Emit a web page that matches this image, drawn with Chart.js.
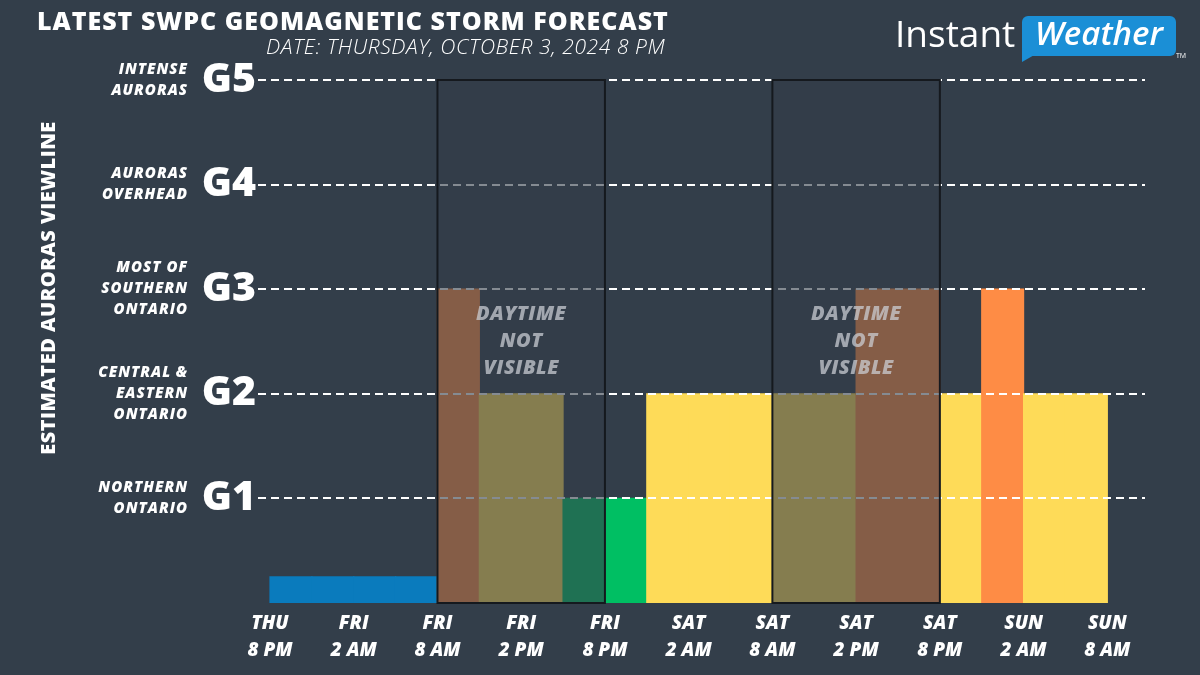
<!doctype html>
<html>
<head>
  <script src="https://cdn.jsdelivr.net/npm/chart.js@4.4.1/dist/chart.umd.min.js"></script>
  <style>
    html, body { margin: 0; padding: 0; background: #333e4a; }
    #wrap { width: 1200px; height: 675px; position: relative; }
  </style>
</head>
<body>
  <div id="wrap"><canvas id="canvas" width="1200" height="675"></canvas></div>
  <script>
    // 3-hour slots, hours after Thu 8 PM
    const slotHours = [0, 3, 6, 9, 12, 15, 18, 21, 24, 27, 30, 33, 36, 39, 42, 45, 48, 51, 54, 57];
    // forecast G level per slot (0.25 = below G1)
    const kLevels = [0.25, 0.25, 0.25, 0.25, 3, 2, 2, 1, 1, 2, 2, 2, 2, 2, 3, 3, 2, 3, 2, 2];
    const tickHours = [0, 6, 12, 18, 24, 30, 36, 42, 48, 54, 60];
    const tickLabels = [
      ['THU', '8 PM'], ['FRI', '2 AM'], ['FRI', '8 AM'], ['FRI', '2 PM'], ['FRI', '8 PM'],
      ['SAT', '2 AM'], ['SAT', '8 AM'], ['SAT', '2 PM'], ['SAT', '8 PM'], ['SUN', '2 AM'], ['SUN', '8 AM']
    ];
    const gLevels = [1, 2, 3, 4, 5];
    const gNotes = [
      ['NORTHERN', 'ONTARIO'],
      ['CENTRAL &', 'EASTERN', 'ONTARIO'],
      ['MOST OF', 'SOUTHERN', 'ONTARIO'],
      ['AURORAS', 'OVERHEAD'],
      ['INTENSE', 'AURORAS']
    ];
    const daytime = [[12, 24], [36, 48]];

    const BG = '#333e4a';
    const levelColor = (v) => v >= 3 ? '#fe8c45' : v >= 2 ? '#fedb58' : v >= 1 ? '#00bf63' : '#0a7bbd';
    const FONT = '"Open Sans", "DejaVu Sans", sans-serif';

    const decor = {
      id: 'decor',
      beforeDraw(chart) {
        const ctx = chart.ctx;
        ctx.save();
        ctx.fillStyle = BG;
        ctx.fillRect(0, 0, chart.width, chart.height);
        ctx.restore();
      },
      afterDraw(chart) {
        const ctx = chart.ctx;
        const x = chart.scales.x, y = chart.scales.y;
        const area = chart.chartArea;
        ctx.save();

        // daytime boxes
        daytime.forEach(([a, b]) => {
          const x0 = x.getPixelForValue(a), x1 = x.getPixelForValue(b);
          ctx.fillStyle = 'rgba(51,62,74,0.6)';
          ctx.fillRect(x0, area.top, x1 - x0, area.bottom - area.top);
          ctx.strokeStyle = '#15191e';
          ctx.lineWidth = 2;
          ctx.strokeRect(x0, area.top, x1 - x0, area.bottom - area.top);
          ctx.fillStyle = 'rgba(205,208,215,0.72)';
          ctx.font = 'italic 800 20px ' + FONT;
          ctx.letterSpacing = '0.5px';
          ctx.textAlign = 'center';
          ctx.textBaseline = 'middle';
          const cx = (x0 + x1) / 2, cy = y.getPixelForValue(2.5);
          ['DAYTIME', 'NOT', 'VISIBLE'].forEach((t, i) => ctx.fillText(t, cx, cy + (i - 1) * 27));
        });

        // notes next to G levels
        ctx.fillStyle = '#ffffff';
        ctx.font = 'italic 800 15px ' + FONT;
        ctx.letterSpacing = '1px';
        ctx.textAlign = 'right';
        ctx.textBaseline = 'middle';
        gLevels.forEach((g, i) => {
          const lines = gNotes[i];
          const cy = y.getPixelForValue(g);
          lines.forEach((t, j) => ctx.fillText(t, 188, cy + (j - (lines.length - 1) / 2) * 21));
        });

        // y title
        ctx.save();
        ctx.translate(49, 288);
        ctx.rotate(-Math.PI / 2);
        ctx.textAlign = 'center';
        ctx.letterSpacing = '0.5px';
        ctx.font = '800 20px ' + FONT;
        ctx.fillText('ESTIMATED AURORAS VIEWLINE', 0, 0);
        ctx.restore();

        // title + subtitle
        ctx.textAlign = 'left';
        ctx.font = '800 25px ' + FONT;
        ctx.letterSpacing = '1px';
        ctx.fillText('LATEST SWPC GEOMAGNETIC STORM FORECAST', 37, 23);
        ctx.font = 'italic 300 21px ' + FONT;
        ctx.letterSpacing = '0.6px';
        ctx.fillText('DATE: THURSDAY, OCTOBER 3, 2024 8 PM', 266, 48);

        // logo
        ctx.letterSpacing = '0px';
        ctx.font = '400 37px ' + FONT;
        ctx.fillText('Instant', 895, 36);
        ctx.fillStyle = '#1b8fd6';
        ctx.beginPath();
        ctx.roundRect(1022, 16, 154, 40, 6);
        ctx.fill();
        ctx.beginPath();
        ctx.moveTo(1022, 48);
        ctx.lineTo(1022, 62);
        ctx.lineTo(1036, 54);
        ctx.closePath();
        ctx.fill();
        ctx.fillStyle = '#ffffff';
        ctx.font = 'italic 600 33px ' + FONT;
        ctx.textAlign = 'center';
        ctx.fillText('Weather', 1099, 36);
        ctx.font = '400 7px ' + FONT;
        ctx.fillText('TM', 1181, 56);
        ctx.restore();
      }
    };

    new Chart(document.getElementById('canvas'), {
      type: 'bar',
      data: {
        datasets: [{
          data: slotHours.map((h, i) => ({ x: h + 1.5, y: kLevels[i] })),
          backgroundColor: kLevels.map(levelColor),
          borderWidth: 0,
          inflateAmount: 0.6,
          barPercentage: 1,
          categoryPercentage: 1
        }]
      },
      options: {
        responsive: false,
        animation: false,
        layout: { padding: { top: 80, right: 55, left: 0, bottom: 0 } },
        plugins: { legend: { display: false }, tooltip: { enabled: false } },
        scales: {
          x: {
            type: 'linear',
            offset: false,
            min: -0.86,
            max: 62.7,
            afterBuildTicks: (s) => { s.ticks = tickHours.map((v) => ({ value: v })); },
            afterFit: (s) => { s.height = 72; },
            grid: { display: false },
            border: { display: false },
            ticks: {
              color: '#ffffff',
              padding: -1,
              maxRotation: 0,
              autoSkip: false,
              font: { family: FONT, size: 19, weight: '800', style: 'italic', lineHeight: 1.42 },
              callback: (v) => tickLabels[tickHours.indexOf(v)]
            }
          },
          y: {
            min: 0,
            max: 5,
            afterBuildTicks: (s) => { s.ticks = gLevels.map((v) => ({ value: v })); },
            afterFit: (s) => { s.width = 258; },
            border: { display: false, dash: [8, 5] },
            grid: { color: '#ffffff', lineWidth: 2, drawTicks: false, z: 1 },
            ticks: {
              color: '#ffffff',
              padding: 2,
              font: { family: FONT, size: 41, weight: '800' },
              callback: (v) => 'G' + v
            }
          }
        }
      },
      plugins: [decor]
    });
  </script>
</body>
</html>
